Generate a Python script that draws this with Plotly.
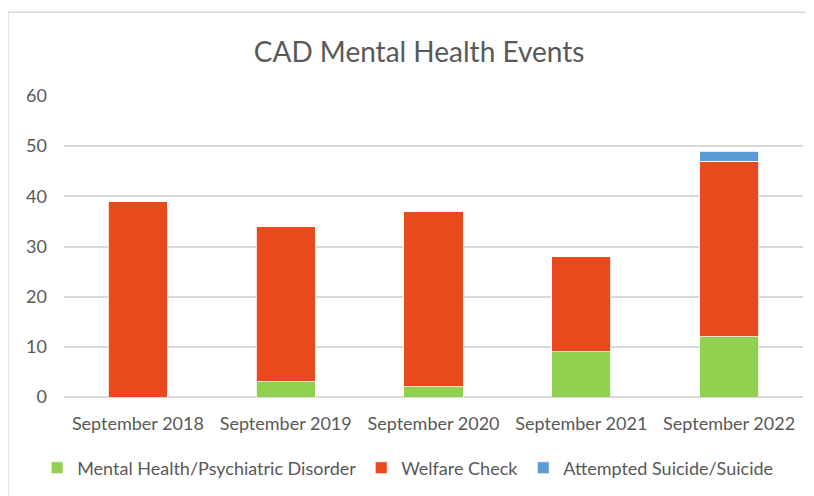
import plotly.graph_objects as go

categories = ["September 2018", "September 2019", "September 2020", "September 2021", "September 2022"]
mental_health = [0, 3, 2, 9, 12]
welfare_check = [39, 31, 35, 19, 35]
attempted_suicide = [0, 0, 0, 0, 2]
y_ticks = [0, 10, 20, 30, 40, 50, 60]

FONT = "Lato"
GREY = "#595959"

fig = go.Figure()
fig.add_trace(go.Bar(name="Mental Health/Psychiatric Disorder", x=categories, y=mental_health,
                     marker=dict(color="#92d050", line=dict(color="white", width=0.8))))
fig.add_trace(go.Bar(name="Welfare Check", x=categories, y=welfare_check,
                     marker=dict(color="#e8491d", line=dict(color="white", width=0.8))))
fig.add_trace(go.Bar(name="Attempted Suicide/Suicide", x=categories, y=attempted_suicide,
                     marker=dict(color="#5b9bd5", line=dict(color="white", width=0.8))))

fig.update_layout(
    barmode="stack",
    bargap=0.6,
    width=806, height=488,
    margin=dict(l=56, r=11, t=88, b=98),
    paper_bgcolor="white", plot_bgcolor="white",
    font=dict(family=FONT, color=GREY, size=18),
    title=dict(text="CAD Mental Health Events", x=0.51, xref="container", xanchor="center",
               y=1 - 44 / 488, yanchor="middle",
               font=dict(family=FONT, size=28, color=GREY)),
    legend=dict(orientation="h", x=0.465, xanchor="center", y=-0.232, yanchor="middle",
                font=dict(family=FONT, size=18, color=GREY), traceorder="normal",
                itemwidth=30),
    showlegend=True,
)
fig.update_yaxes(range=[0, 60], tickvals=y_ticks, showgrid=True, gridcolor="#d9d9d9", gridwidth=1.5,
                 zeroline=True, zerolinecolor="#d9d9d9", zerolinewidth=1.5, showline=False,
                 ticks="", ticklabelstandoff=16, tickfont=dict(size=18, color=GREY))
fig.update_xaxes(showgrid=False, showline=False, ticks="", tickfont=dict(size=18, color=GREY),
                 ticklabelstandoff=14)

fig.add_shape(type="rect", xref="paper", yref="paper", x0=-0.0758, x1=1.2, y0=-0.5, y1=1.278,
              line=dict(color="#d9d9d9", width=1.5), fillcolor="rgba(0,0,0,0)", layer="below")

fig.write_html("out.html")
